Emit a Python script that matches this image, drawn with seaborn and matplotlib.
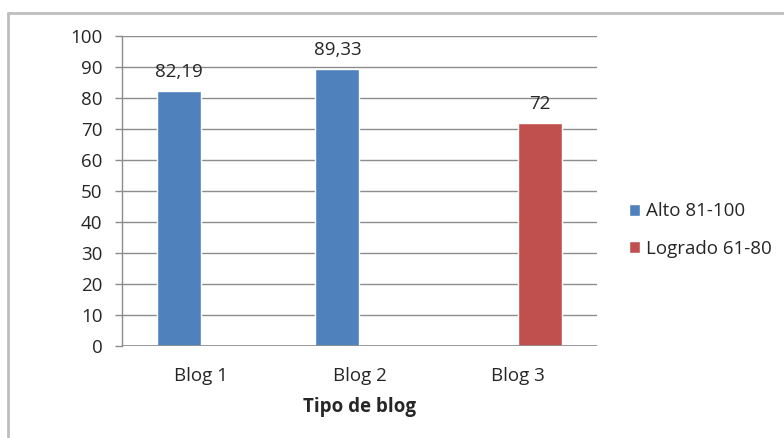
import matplotlib
matplotlib.use("Agg")
import matplotlib.pyplot as plt
import seaborn as sns
import pandas as pd
import numpy as np
from matplotlib.lines import Line2D

categories = ["Blog 1", "Blog 2", "Blog 3"]
series = ["Alto 81-100", "Logrado 61-80"]
alto = [82.19, 89.33, None]
logrado = [None, None, 72]
labels_alto = ["82,19", "89,33", ""]
labels_logrado = ["", "", "72"]

rows = []
for c, a, l in zip(categories, alto, logrado):
    rows.append({"Blog": c, "Serie": series[0], "Valor": a})
    rows.append({"Blog": c, "Serie": series[1], "Valor": l})
df = pd.DataFrame(rows)

sns.set_theme(style="white")
plt.rcParams['font.family'] = ['Open Sans', 'DejaVu Sans']
FS = 13.5
TXT = "#262626"

fig = plt.figure(figsize=(7.84, 4.38), dpi=100)
ax = fig.add_axes([122/784, 1 - 346/438, (597 - 122)/784, (346 - 36)/438])

palette = {series[0]: "#4F81BD", series[1]: "#C0504D"}
sns.barplot(data=df, x="Blog", y="Valor", hue="Serie", order=categories,
            hue_order=series, palette=palette, width=0.56, dodge=True,
            saturation=1, ax=ax, legend=True, errorbar=None)

ax.set_ylim(0, 100)
ax.set_xlim(-0.5, 2.5)
ax.set_yticks(range(0, 101, 10))
ax.yaxis.grid(True, color="#8C8C8C", linewidth=1)
ax.set_axisbelow(True)
for s in ["top", "right", "bottom"]:
    ax.spines[s].set_visible(False)
ax.spines["left"].set_color("#8C8C8C")
ax.spines["left"].set_linewidth(1)
ax.axhline(0, color="#8C8C8C", linewidth=1.2, zorder=3)
ax.tick_params(axis="y", which="both", left=True, length=5, width=1, color="#8C8C8C",
               labelsize=FS, labelcolor=TXT, pad=9)
ax.tick_params(axis="x", bottom=False, labelsize=FS, labelcolor=TXT, pad=9)
ax.set_ylabel("")
ax.set_xlabel("Tipo de blog", fontsize=FS, fontweight="bold", color=TXT, labelpad=9)

# data labels
label_sets = [labels_alto, labels_logrado]
for hi, cont in enumerate(ax.containers):
    labs = label_sets[hi]
    for patch in cont.patches:
        if patch is None:
            continue
        h = patch.get_height()
        if h is None or np.isnan(h) or h == 0:
            continue
        xc = patch.get_x() + patch.get_width() / 2
        ci = int(round(xc))
        lab = labs[ci]
        if not lab:
            continue
        ax.annotate(lab, (xc, h), xytext=(0, 7), textcoords="offset points",
                    ha="center", va="bottom", fontsize=FS, color=TXT)

leg = ax.legend(loc="center left", bbox_to_anchor=(1.0, 0.43), frameon=False,
                fontsize=FS, handlelength=0.6, handleheight=0.6,
                handletextpad=0.3, labelspacing=1.05, borderaxespad=0.0,
                borderpad=0.0)
for t in leg.get_texts():
    t.set_color(TXT)
leg.set_bbox_to_anchor((629/784, 1 - 230/438), transform=fig.transFigure)

# outer frame (left and top visible)
fig.add_artist(Line2D([8/784, 8/784], [0, 1 - 13/438], transform=fig.transFigure,
                      color="#BEBEBE", linewidth=2))
fig.add_artist(Line2D([8/784, 1], [1 - 13/438, 1 - 13/438], transform=fig.transFigure,
                      color="#BEBEBE", linewidth=2))

fig.savefig("out.png", dpi=100)
